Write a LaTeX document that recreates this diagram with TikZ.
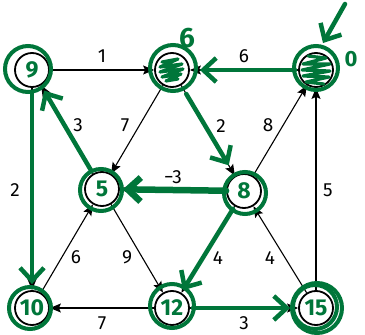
\documentclass[tikz,border=0pt]{standalone}
\usepackage{fontspec}
\setmainfont{Fira Sans}
\usetikzlibrary{arrows.meta}
\definecolor{pen}{RGB}{0,118,58}
\begin{document}
\begin{tikzpicture}[x=1pt,y=-1pt,
  vert/.style={circle,draw=black,line width=1.8pt,minimum size=34pt,inner sep=0pt},
  edge/.style={line width=1.1pt,-{Stealth[length=11pt,width=9pt,inset=2pt]}},
  lbl/.style={font=\fontsize{19}{21}\selectfont,inner sep=0pt,midway},
  ink/.style={draw=pen,line width=4.5pt,line cap=round,line join=round},
  inkarrow/.style={ink,-{Straight Barb[length=13pt,width=24pt]}},
  ring/.style={draw=pen,line width=4pt},
  scrib/.style={draw=pen,line width=3.2pt,line cap=round,line join=round},
  hand/.style={text=pen,font=\bfseries\fontsize{23}{24}\selectfont,inner sep=0pt}
]
\useasboundingbox (0,0) rectangle (365,335);

% vertices
\node[vert] (A) at (32,70) {};
\node[vert] (B) at (172,70) {};
\node[vert] (C) at (316,70) {};
\node[vert] (D) at (102,189) {};
\node[vert] (E) at (244,191) {};
\node[vert] (F) at (32,308) {};
\node[vert] (G) at (172,308) {};
\node[vert] (H) at (316,308) {};

% weighted edges
\draw[edge] (A) -- (B) node[lbl,yshift=14pt] {1};
\draw[edge] (C) -- (B) node[lbl,yshift=14pt] {6};
\draw[edge] (B) -- (D) node[lbl,xshift=-12pt,yshift=4.5pt] {7};
\draw[edge] (B) -- (E) node[lbl,xshift=13pt,yshift=4.5pt] {2};
\draw[edge] (D) -- (A) node[lbl,xshift=11pt,yshift=4.5pt] {3};
\draw[edge] (E) -- (C) node[lbl,xshift=-12pt,yshift=5.5pt] {8};
\draw[edge] (A) -- (F) node[lbl,xshift=-17pt,yshift=-1pt] {2};
\draw[edge] (E) -- (D) node[lbl,yshift=13pt] {−3};
\draw[edge] (F) -- (D) node[lbl,xshift=9pt,yshift=-8.5pt] {6};
\draw[edge] (D) -- (G) node[lbl,xshift=-10pt,yshift=-8.5pt] {9};
\draw[edge] (E) -- (G) node[lbl,xshift=10pt,yshift=-8.5pt] {4};
\draw[edge] (H) -- (E) node[lbl,xshift=-10pt,yshift=-8.5pt] {4};
\draw[edge] (H) -- (C) node[lbl,xshift=12pt,yshift=-1pt] {5};
\draw[edge] (G) -- (F) node[lbl,yshift=-15pt] {7};
\draw[edge] (G) -- (H) node[lbl,yshift=-15pt] {3};

% hand-drawn rings round the vertices
\draw[ring] (28,69) circle (23);
\draw[ring] (173,68) circle (23);
\draw[ring] (316,68) circle (22);
\draw[ring] (101,190) circle (21);
\draw[ring] (245,193) circle (21);
\draw[ring] (30,308) circle (21);
\draw[ring] (172,306) circle (22);
\draw[ring] (317,308) circle (25);
\draw[ring] (315,307) circle (22);

% shortest-path tree traced in ink
\draw[inkarrow,shorten <=3pt,shorten >=10pt] (C) -- (B);
\draw[inkarrow,shorten <=10pt,shorten >=12pt] (B) -- (E);
\draw[inkarrow,line width=6.5pt,shorten <=0pt,shorten >=3pt] (E) -- (D);
\draw[inkarrow,shorten <=3pt,shorten >=6pt] (D) -- (A);
\draw[inkarrow,shorten <=5pt,shorten >=6pt] (A) -- (F);
\draw[inkarrow,shorten <=3pt,shorten >=3pt] (E) -- (G);
\draw[inkarrow,shorten <=3pt,shorten >=8pt] (G) -- (H);
\coordinate (src) at (345,4);
\draw[inkarrow] (src) -- ([shift={(7,-27)}]C.center);

% distance marks
\node[hand] (dA) at (A) {9};
\node[hand] (dD) at (D) {5};
\node[hand] (dE) at (E) {8};
\node[hand] (dF) at (F) {10};
\node[hand] (dG) at (G) {12};
\node[hand] (dH) at (H) {15};
\node[hand,font=\bfseries\fontsize{28}{28}\selectfont] (nB) at (187,38) {6};
\node[hand,font=\bfseries\fontsize{22}{22}\selectfont] (nC) at (351,59) {0};

% crossed-out values
\begin{scope}[shift={(B.center)}]
\draw[scrib] (-10,-8) -- (6,-11) -- (-12,-3) -- (10,-6) -- (-12,2) -- (11,-1)
  -- (-10,7) -- (9,4) -- (-6,11) -- (6,9);
\end{scope}
\begin{scope}[shift={(C.center)}]
\draw[scrib] (-8,-14) -- (10,-12) -- (-13,-6) -- (14,-6) -- (-14,0) -- (14,1)
  -- (-13,6) -- (13,7) -- (-10,12) -- (8,14);
\end{scope}
\end{tikzpicture}
\end{document}
